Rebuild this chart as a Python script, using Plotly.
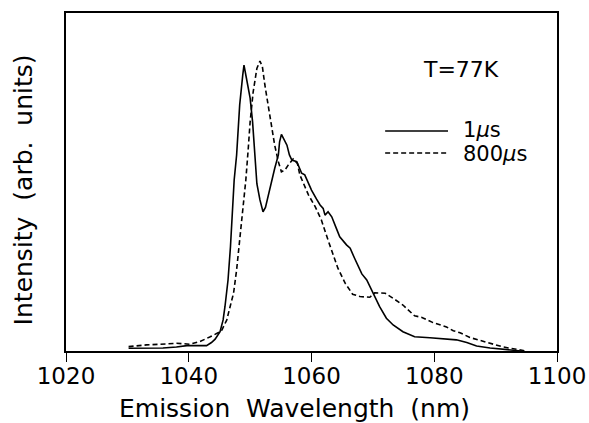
import plotly.graph_objects as go

# Emission spectra at T = 77 K, two gate delays (intensity in arbitrary units)
wl_1us = [1030.2, 1033.0, 1035.8, 1038.0, 1039.7, 1041.5, 1042.9, 1043.7, 1044.3, 1045.1,
          1045.6, 1045.9, 1046.4, 1046.8, 1047.1, 1047.4, 1047.8, 1048.3, 1048.8, 1049.0,
          1049.4, 1050.0, 1050.4, 1050.8, 1051.1, 1051.6, 1052.1, 1052.5, 1052.9, 1053.5,
          1054.0, 1054.6, 1054.8, 1055.1, 1055.7, 1056.0, 1056.4, 1056.8, 1057.6, 1058.4,
          1058.9, 1059.5, 1060.0, 1060.8, 1061.4, 1061.9, 1062.2, 1062.7, 1063.3, 1064.0,
          1064.6, 1065.7, 1066.3, 1067.0, 1067.6, 1068.2, 1069.0, 1070.0, 1071.1, 1072.2,
          1073.3, 1074.9, 1076.8, 1079.3, 1081.5, 1083.6, 1085.3, 1086.9, 1089.1, 1091.2,
          1092.3, 1094.2]
int_1us = [0.008, 0.008, 0.009, 0.012, 0.016, 0.016, 0.016, 0.025, 0.035, 0.057,
           0.092, 0.131, 0.210, 0.309, 0.407, 0.506, 0.580, 0.728, 0.817, 0.846,
           0.807, 0.748, 0.678, 0.580, 0.495, 0.447, 0.412, 0.425, 0.457, 0.503,
           0.540, 0.580, 0.619, 0.641, 0.619, 0.609, 0.580, 0.565, 0.560, 0.526,
           0.521, 0.495, 0.476, 0.450, 0.432, 0.422, 0.402, 0.412, 0.397, 0.365,
           0.338, 0.314, 0.304, 0.275, 0.249, 0.228, 0.210, 0.170, 0.131, 0.097,
           0.077, 0.057, 0.042, 0.039, 0.037, 0.033, 0.025, 0.015, 0.009, 0.005,
           0.003, 0.000]

wl_800us = [1030.2, 1033.1, 1036.4, 1038.0, 1040.2, 1041.8, 1043.5, 1044.5, 1045.1, 1045.4,
            1046.2, 1046.4, 1047.3, 1047.8, 1048.2, 1048.6, 1049.0, 1049.3, 1049.7, 1050.0,
            1050.5, 1051.1, 1051.6, 1052.0, 1052.4, 1052.9, 1053.5, 1054.0, 1054.6, 1055.1,
            1055.7, 1056.2, 1057.0, 1057.7, 1058.1, 1059.5, 1060.6, 1061.6, 1062.7, 1063.5,
            1064.3, 1065.5, 1066.7, 1067.9, 1069.5, 1070.3, 1072.0, 1073.3, 1074.9, 1076.8,
            1077.9, 1079.8, 1082.0, 1083.1, 1084.2, 1085.8, 1088.5, 1091.2, 1093.4, 1095.0]
int_800us = [0.013, 0.018, 0.021, 0.023, 0.020, 0.028, 0.042, 0.050, 0.057, 0.062,
             0.092, 0.107, 0.171, 0.240, 0.309, 0.388, 0.467, 0.506, 0.600, 0.678,
             0.767, 0.836, 0.858, 0.841, 0.787, 0.728, 0.669, 0.609, 0.560, 0.530,
             0.536, 0.550, 0.568, 0.555, 0.521, 0.462, 0.427, 0.388, 0.328, 0.285,
             0.245, 0.200, 0.168, 0.161, 0.159, 0.172, 0.171, 0.156, 0.136, 0.104,
             0.100, 0.084, 0.071, 0.060, 0.054, 0.040, 0.025, 0.012, 0.005, 0.000]

x_ticks = [1020, 1040, 1060, 1080, 1100]
series_labels = ["1<i>µ</i>s", "800<i>µ</i>s"]

FONT = "DejaVu Sans"
INK = "black"

fig = go.Figure()
fig.add_trace(go.Scatter(x=wl_1us, y=int_1us, mode="lines",
                         line=dict(color=INK, width=1.6), showlegend=False))
fig.add_trace(go.Scatter(x=wl_800us, y=int_800us, mode="lines",
                         line=dict(color=INK, width=1.6, dash="5px,3px"), showlegend=False))

# hand-drawn style key: line samples plus labels
key_rows = [(0.651, 0.655, "solid"), (0.586, 0.582, "5px,3px")]
for (ky, ty, dash), label in zip(key_rows, series_labels):
    fig.add_shape(type="line", xref="paper", yref="paper",
                  x0=0.650, x1=0.778, y0=ky, y1=ky,
                  line=dict(color=INK, width=1.4, dash=dash))
    fig.add_annotation(xref="paper", yref="paper", x=0.805, y=ty,
                       xanchor="left", yanchor="middle", showarrow=False,
                       text=label, font=dict(family=FONT, size=21, color=INK))

fig.add_annotation(xref="paper", yref="paper", x=0.722, y=0.834,
                   xanchor="left", yanchor="middle", showarrow=False,
                   text="T=77K", font=dict(family=FONT, size=22, color=INK))

fig.add_annotation(xref="paper", yref="paper", x=0.466, y=-0.17,
                   xanchor="center", yanchor="middle", showarrow=False,
                   text="Emission  Wavelength  (nm)",
                   font=dict(family=FONT, size=25, color=INK))
fig.add_annotation(xref="paper", yref="paper", x=-0.087, y=0.476,
                   xanchor="center", yanchor="middle", showarrow=False,
                   textangle=-90, text="Intensity  (arb.  units)",
                   font=dict(family=FONT, size=25, color=INK))

fig.update_xaxes(range=[1020, 1100], tickvals=x_ticks, ticktext=[str(v) for v in x_ticks],
                 ticks="outside", ticklen=9, tickwidth=1.4, tickcolor=INK,
                 ticklabelstandoff=-5, automargin=False,
                 showline=True, linecolor=INK, linewidth=1.6, mirror=True,
                 showgrid=False, zeroline=False,
                 tickfont=dict(family=FONT, size=23, color=INK))
fig.update_yaxes(range=[0, 1], showticklabels=False, ticks="", automargin=False,
                 showline=True, linecolor=INK, linewidth=1.6, mirror=True,
                 showgrid=False, zeroline=False)

fig.update_layout(width=589, height=423,
                  margin=dict(l=66, r=32, t=13, b=72),
                  paper_bgcolor="white", plot_bgcolor="white",
                  showlegend=False)

fig.write_html("out.html")
